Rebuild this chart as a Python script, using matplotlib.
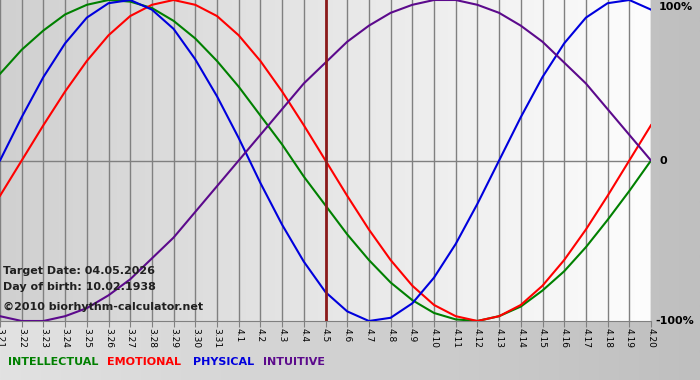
import numpy as np
import matplotlib
matplotlib.use("Agg")
import matplotlib.pyplot as plt
from matplotlib.colors import LinearSegmentedColormap

# day labels from 3.21 to 4.20
dates = ["3.%d" % d for d in range(21, 32)] + ["4.%d" % d for d in range(1, 21)]
target_idx = 15  # 4.5

# values, one per day (-1 .. 1)
intellectual = [0.54, 0.69, 0.81, 0.91, 0.97, 1.00, 0.99, 0.95, 0.87, 0.76, 0.62,
                0.46, 0.28, 0.10, -0.10, -0.28, -0.46, -0.62, -0.76, -0.87, -0.95,
                -0.99, -1.00, -0.97, -0.91, -0.81, -0.69, -0.54, -0.37, -0.19, 0.00]
emotional = [-0.22, 0.00, 0.22, 0.43, 0.62, 0.78, 0.90, 0.97, 1.00, 0.97, 0.90,
             0.78, 0.62, 0.43, 0.22, 0.00, -0.22, -0.43, -0.62, -0.78, -0.90,
             -0.97, -1.00, -0.97, -0.90, -0.78, -0.62, -0.43, -0.22, 0.00, 0.22]
physical = [0.00, 0.27, 0.52, 0.73, 0.89, 0.98, 1.00, 0.94, 0.82, 0.63, 0.40,
            0.14, -0.14, -0.40, -0.63, -0.82, -0.94, -1.00, -0.98, -0.89, -0.73,
            -0.52, -0.27, 0.00, 0.27, 0.52, 0.73, 0.89, 0.98, 1.00, 0.94]
intuitive = [-0.97, -1.00, -1.00, -0.97, -0.92, -0.84, -0.74, -0.61, -0.48, -0.32, -0.16,
             0.00, 0.16, 0.32, 0.48, 0.61, 0.74, 0.84, 0.92, 0.97, 1.00,
             1.00, 0.97, 0.92, 0.84, 0.74, 0.61, 0.48, 0.32, 0.16, 0.00]

series = [("INTELLECTUAL", intellectual, "#008000"),
          ("EMOTIONAL", emotional, "#ff0000"),
          ("PHYSICAL", physical, "#0000dd"),
          ("INTUITIVE", intuitive, "#5c0a8c")]

fig = plt.figure(figsize=(7, 3.8), dpi=100)

# figure background gradient
bg = fig.add_axes([0, 0, 1, 1], zorder=-10)
bg.imshow(np.linspace(0, 1, 256).reshape(1, -1), aspect="auto", extent=[0, 1, 0, 1],
          cmap=LinearSegmentedColormap.from_list("bg", ["#e2e2e2", "#bfbfbf"]))
bg.axis("off")

ax = fig.add_axes([0, 1 - 321 / 380, 651 / 700, 321 / 380])
x = np.arange(len(dates))
ax.set_xlim(0, len(dates) - 1)
ax.set_ylim(-1, 1)

# plot area gradient
ax.imshow(np.linspace(0, 1, 256).reshape(1, -1), aspect="auto",
          extent=[0, len(dates) - 1, -1, 1], zorder=0,
          cmap=LinearSegmentedColormap.from_list("pa", ["#d0d0d0", "#fdfdfd"]))

for xi in x:
    ax.axvline(xi, color="#808080", lw=1, zorder=1)
ax.axhline(0, color="#808080", lw=1, zorder=1)

for name, vals, col in series:
    ax.plot(x, vals, color=col, lw=1.5, zorder=3, solid_joinstyle="round")

ax.axvline(target_idx, color="#8b1a1a", lw=2, zorder=4)

ax.set_xticks(x)
ax.set_xticklabels(dates, rotation=270, fontsize=6.5)
ax.tick_params(axis="x", length=4, color="#808080", pad=1)
ax.set_yticks([])
for s in ["top", "left", "right"]:
    ax.spines[s].set_visible(False)
ax.spines["bottom"].set_color("#808080")

# info text
info = ["Target Date: 04.05.2026", "Day of birth: 10.02.1938"]
fig.text(3 / 700, 1 - 271 / 380, info[0], fontsize=8, fontweight="bold",
         color="#202020", va="center")
fig.text(3 / 700, 1 - 287 / 380, info[1], fontsize=8, fontweight="bold",
         color="#202020", va="center")
fig.text(3 / 700, 1 - 307 / 380, "\u00a92010 biorhythm-calculator.net", fontsize=8,
         fontweight="bold", color="#202020", va="center")

# right percentage labels
fig.text(659 / 700, 1 - 7 / 380, "100%", fontsize=8, fontweight="bold", va="center")
fig.text(659 / 700, 1 - 161 / 380, "0", fontsize=8, fontweight="bold", va="center")
fig.text(655 / 700, 1 - 321 / 380, "-100%", fontsize=8, fontweight="bold", va="center")

# legend
leg_x = [8, 107, 193, 263]
for (name, vals, col), lx in zip(series, leg_x):
    fig.text(lx / 700, 1 - 362 / 380, name, fontsize=8, fontweight="bold",
             color=col, va="center")

fig.savefig("out.png", dpi=100)
